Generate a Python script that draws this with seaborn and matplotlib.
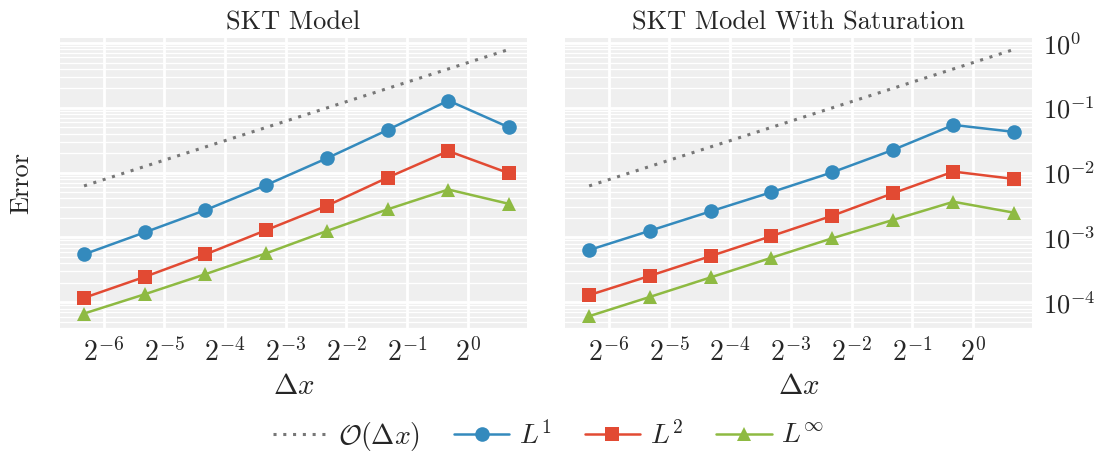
import numpy as np
import pandas as pd
import matplotlib
matplotlib.use("Agg")
import matplotlib.pyplot as plt
from matplotlib.lines import Line2D
from matplotlib.ticker import LogLocator, NullFormatter
import seaborn as sns

# grid spacing and error norms
dx = [0.0125, 0.025, 0.05, 0.1, 0.2, 0.4, 0.8, 1.6]
ref_order1 = [0.00625, 0.0125, 0.025, 0.05, 0.1, 0.2, 0.4, 0.8]

skt_l1 = [5.5e-4, 1.2e-3, 2.65e-3, 6.45e-3, 1.67e-2, 4.57e-2, 1.3e-1, 5.0e-2]
skt_l2 = [1.17e-4, 2.47e-4, 5.48e-4, 1.30e-3, 3.09e-3, 8.4e-3, 2.16e-2, 9.8e-3]
skt_linf = [6.7e-5, 1.33e-4, 2.72e-4, 5.7e-4, 1.26e-3, 2.72e-3, 5.5e-3, 3.3e-3]

sat_l1 = [6.4e-4, 1.27e-3, 2.53e-3, 5.0e-3, 1.01e-2, 2.24e-2, 5.46e-2, 4.26e-2]
sat_l2 = [1.29e-4, 2.56e-4, 5.16e-4, 1.05e-3, 2.16e-3, 4.8e-3, 1.04e-2, 8.0e-3]
sat_linf = [6.1e-5, 1.21e-4, 2.42e-4, 4.86e-4, 9.7e-4, 1.86e-3, 3.56e-3, 2.41e-3]

titles = ["SKT Model", "SKT Model With Saturation"]
norm_labels = [r"$L^1$", r"$L^2$", r"$L^\infty$"]
ref_label = r"$\mathcal{O}(\Delta x)$"

colors = ["#348ABD", "#E24A33", "#8EBA42"]
markers = ["o", "s", "^"]
ref_color = "#777777"
ref_dash = (0, (1, 2.2))

# style: light grey panels, white grid, no spines
sns.set_style("whitegrid", {
    "axes.facecolor": "#efefef",
    "axes.edgecolor": "#efefef",
    "grid.color": "white",
    "axes.spines.left": False,
    "axes.spines.right": False,
    "axes.spines.top": False,
    "axes.spines.bottom": False,
})
plt.rcParams["font.family"] = "serif"
plt.rcParams["font.serif"] = ["cmr10", "DejaVu Serif"]
plt.rcParams["mathtext.fontset"] = "cm"
plt.rcParams["axes.formatter.use_mathtext"] = True

fig, axes = plt.subplots(1, 2, figsize=(10.97, 4.55), dpi=100, sharey=True)
fig.subplots_adjust(left=0.0547, right=0.9407, bottom=0.279, top=0.9165, wspace=0.082)

panels = [(skt_l1, skt_l2, skt_linf), (sat_l1, sat_l2, sat_linf)]

for ax, title, series in zip(axes, titles, panels):
    ax.set_xscale("log", base=2)
    ax.set_yscale("log")
    sns.lineplot(x=dx, y=ref_order1, ax=ax, color=ref_color, linestyle=ref_dash, linewidth=2.2)
    for vals, c, m in zip(series, colors, markers):
        sns.lineplot(x=dx, y=vals, ax=ax, color=c, marker=m, markersize=10.5,
                     markeredgewidth=0, linewidth=1.8)
    ax.xaxis.set_major_locator(LogLocator(base=2, numticks=20))
    ax.yaxis.set_major_locator(LogLocator(base=10, numticks=20))
    ax.yaxis.set_minor_locator(LogLocator(base=10, subs=np.arange(2, 10), numticks=20))
    ax.yaxis.set_minor_formatter(NullFormatter())
    ax.set_xlim(0.0095, 1.96)
    ax.set_ylim(4e-5, 1.2)
    ax.grid(which="major", color="white", linewidth=2)
    ax.grid(which="minor", axis="y", color="white", linewidth=0.9)
    ax.tick_params(which="both", length=0)
    ax.tick_params(axis="x", labelsize=20, pad=7)
    ax.tick_params(axis="y", labelsize=19)
    ax.set_title(title, fontsize=19, pad=6)
    ax.set_xlabel(r"$\Delta x$", fontsize=21, labelpad=5)

axes[0].set_ylabel("Error", fontsize=19, labelpad=16)
axes[0].tick_params(labelleft=False)
axes[1].yaxis.tick_right()
axes[1].tick_params(axis="y", labelright=True, pad=8)

handles = [Line2D([], [], color=ref_color, linestyle=ref_dash, linewidth=2.2)]
for c, m in zip(colors, markers):
    handles.append(Line2D([], [], color=c, marker=m, markersize=10.5, markeredgewidth=0, linewidth=1.8))
fig.legend(handles, [ref_label] + norm_labels, loc="lower center", ncol=4,
           frameon=False, fontsize=20, bbox_to_anchor=(0.5, -0.05),
           columnspacing=1.2, handlelength=2.0, handletextpad=0.35)

fig.savefig("out.png", dpi=100)
